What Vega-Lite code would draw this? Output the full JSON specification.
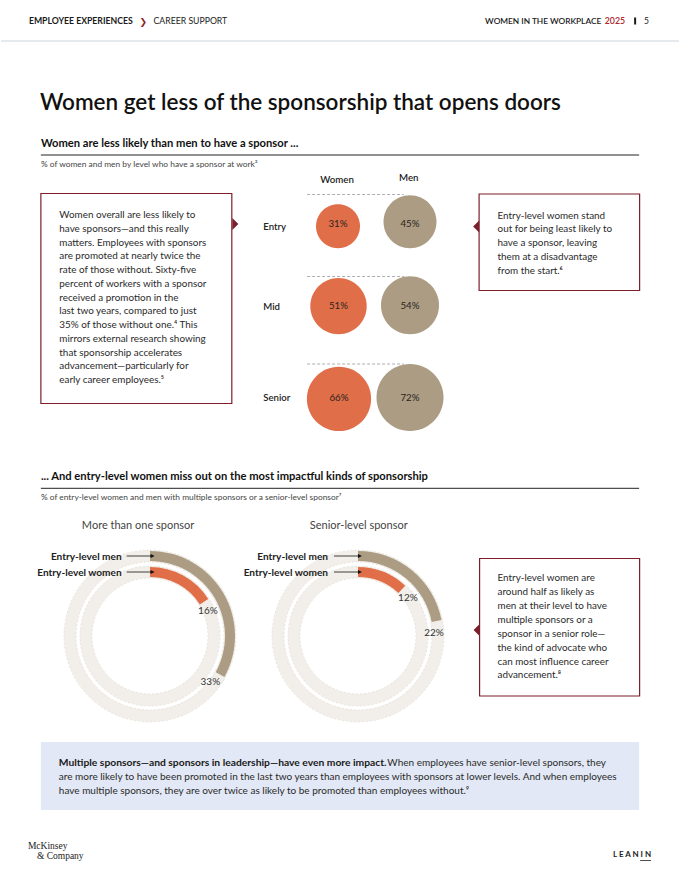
{
  "$schema": "https://vega.github.io/schema/vega-lite/v6.json",
  "width": 680,
  "height": 880,
  "padding": 0,
  "autosize": {"type": "fit", "contains": "padding"},
  "background": "white",
  "config": {
    "view": {"stroke": null},
    "font": "Lato",
    "text": {"font": "Lato", "align": "left", "baseline": "alphabetic", "color": "#222222"}
  },
  "datasets": {
    "bubbles": [
      {"level": "Entry", "gender": "Women", "share": 0.31},
      {"level": "Entry", "gender": "Men", "share": 0.45},
      {"level": "Mid", "gender": "Women", "share": 0.51},
      {"level": "Mid", "gender": "Men", "share": 0.54},
      {"level": "Senior", "gender": "Women", "share": 0.66},
      {"level": "Senior", "gender": "Men", "share": 0.72}
    ],
    "donuts": [
      {"chart": "More than one sponsor", "gender": "Men", "share": 0.33},
      {"chart": "More than one sponsor", "gender": "Women", "share": 0.16},
      {"chart": "Senior-level sponsor", "gender": "Men", "share": 0.22},
      {"chart": "Senior-level sponsor", "gender": "Women", "share": 0.12}
    ]
  },
  "resolve": {"scale": {"x": "independent", "y": "independent", "theta": "independent", "size": "independent", "color": "independent"}},
  "layer": [
    {
      "data": {"values": [{}]},
      "layer": [
        {"mark": {"type": "rule", "color": "#C9D4DB", "strokeWidth": 1},
         "encoding": {"x": {"datum": 0, "type": "quantitative", "scale": {"domain": [0, 680], "nice": false, "zero": false}, "axis": null}, "x2": {"datum": 680},
                      "y": {"datum": 41, "type": "quantitative", "scale": {"domain": [0, 880], "nice": false, "zero": false, "reverse": true}, "axis": null}}},
        {"mark": {"type": "text", "fontSize": 8.7, "fontWeight": "bold", "color": "#1a1a1a"},
         "encoding": {"x": {"datum": 28, "type": "quantitative", "scale": {"domain": [0, 680], "nice": false, "zero": false}, "axis": null},
                      "y": {"datum": 24.3, "type": "quantitative", "scale": {"domain": [0, 880], "nice": false, "zero": false, "reverse": true}, "axis": null},
                      "text": {"value": "EMPLOYEE EXPERIENCES"}}},
        {"mark": {"type": "text", "font": "DejaVu Sans", "fontSize": 9, "fontWeight": "bold", "color": "#8E1B1F"},
         "encoding": {"x": {"datum": 139, "type": "quantitative", "scale": {"domain": [0, 680], "nice": false, "zero": false}, "axis": null},
                      "y": {"datum": 25, "type": "quantitative", "scale": {"domain": [0, 880], "nice": false, "zero": false, "reverse": true}, "axis": null},
                      "text": {"value": "❯"}}},
        {"mark": {"type": "text", "fontSize": 8.7, "color": "#1a1a1a"},
         "encoding": {"x": {"datum": 153, "type": "quantitative", "scale": {"domain": [0, 680], "nice": false, "zero": false}, "axis": null},
                      "y": {"datum": 24.3, "type": "quantitative", "scale": {"domain": [0, 880], "nice": false, "zero": false, "reverse": true}, "axis": null},
                      "text": {"value": "CAREER SUPPORT"}}},
        {"mark": {"type": "text", "align": "right", "fontSize": 8.3, "fontWeight": 600, "color": "#1a1a1a"},
         "encoding": {"x": {"datum": 602, "type": "quantitative", "scale": {"domain": [0, 680], "nice": false, "zero": false}, "axis": null},
                      "y": {"datum": 24.3, "type": "quantitative", "scale": {"domain": [0, 880], "nice": false, "zero": false, "reverse": true}, "axis": null},
                      "text": {"value": "WOMEN IN THE WORKPLACE"}}},
        {"mark": {"type": "text", "fontSize": 8.8, "fontWeight": 600, "color": "#B0282E"},
         "encoding": {"x": {"datum": 605.5, "type": "quantitative", "scale": {"domain": [0, 680], "nice": false, "zero": false}, "axis": null},
                      "y": {"datum": 24.3, "type": "quantitative", "scale": {"domain": [0, 880], "nice": false, "zero": false, "reverse": true}, "axis": null},
                      "text": {"value": "2025"}}},
        {"mark": {"type": "rule", "color": "#1a1a1a", "strokeWidth": 2},
         "encoding": {"x": {"datum": 636, "type": "quantitative", "scale": {"domain": [0, 680], "nice": false, "zero": false}, "axis": null},
                      "y": {"datum": 17.5, "type": "quantitative", "scale": {"domain": [0, 880], "nice": false, "zero": false, "reverse": true}, "axis": null}, "y2": {"datum": 24.5}}},
        {"mark": {"type": "text", "fontSize": 8.5, "color": "#1a1a1a"},
         "encoding": {"x": {"datum": 645, "type": "quantitative", "scale": {"domain": [0, 680], "nice": false, "zero": false}, "axis": null},
                      "y": {"datum": 24.3, "type": "quantitative", "scale": {"domain": [0, 880], "nice": false, "zero": false, "reverse": true}, "axis": null},
                      "text": {"value": "5"}}},
        {"mark": {"type": "text", "fontSize": 22.5, "fontWeight": 600, "color": "#111111"},
         "encoding": {"x": {"datum": 39, "type": "quantitative", "scale": {"domain": [0, 680], "nice": false, "zero": false}, "axis": null},
                      "y": {"datum": 109.5, "type": "quantitative", "scale": {"domain": [0, 880], "nice": false, "zero": false, "reverse": true}, "axis": null},
                      "text": {"value": "Women get less of the sponsorship that opens doors"}}},
        {"mark": {"type": "text", "fontSize": 11.2, "fontWeight": "bold", "color": "#111111"},
         "encoding": {"x": {"datum": 40, "type": "quantitative", "scale": {"domain": [0, 680], "nice": false, "zero": false}, "axis": null},
                      "y": {"datum": 147.3, "type": "quantitative", "scale": {"domain": [0, 880], "nice": false, "zero": false, "reverse": true}, "axis": null},
                      "text": {"value": "Women are less likely than men to have a sponsor ..."}}},
        {"mark": {"type": "rule", "color": "#222222", "strokeWidth": 1},
         "encoding": {"x": {"datum": 40, "type": "quantitative", "scale": {"domain": [0, 680], "nice": false, "zero": false}, "axis": null}, "x2": {"datum": 640},
                      "y": {"datum": 155, "type": "quantitative", "scale": {"domain": [0, 880], "nice": false, "zero": false, "reverse": true}, "axis": null}}},
        {"mark": {"type": "text", "fontSize": 8.4, "color": "#444444"},
         "encoding": {"x": {"datum": 40, "type": "quantitative", "scale": {"domain": [0, 680], "nice": false, "zero": false}, "axis": null},
                      "y": {"datum": 166.5, "type": "quantitative", "scale": {"domain": [0, 880], "nice": false, "zero": false, "reverse": true}, "axis": null},
                      "text": {"value": "% of women and men by level who have a sponsor at work³"}}},
        {"mark": {"type": "text", "align": "center", "fontSize": 9.7, "fontWeight": 600, "color": "#222222"},
         "encoding": {"x": {"datum": 337, "type": "quantitative", "scale": {"domain": [0, 680], "nice": false, "zero": false}, "axis": null},
                      "y": {"datum": 182.5, "type": "quantitative", "scale": {"domain": [0, 880], "nice": false, "zero": false, "reverse": true}, "axis": null},
                      "text": {"value": "Women"}}},
        {"mark": {"type": "text", "align": "center", "fontSize": 9.7, "fontWeight": 600, "color": "#222222"},
         "encoding": {"x": {"datum": 409, "type": "quantitative", "scale": {"domain": [0, 680], "nice": false, "zero": false}, "axis": null},
                      "y": {"datum": 180.5, "type": "quantitative", "scale": {"domain": [0, 880], "nice": false, "zero": false, "reverse": true}, "axis": null},
                      "text": {"value": "Men"}}},
        {"mark": {"type": "rule", "color": "#9A9A9A", "strokeWidth": 0.8, "strokeDash": [3, 2]},
         "encoding": {"x": {"datum": 307, "type": "quantitative", "scale": {"domain": [0, 680], "nice": false, "zero": false}, "axis": null}, "x2": {"datum": 404},
                      "y": {"datum": 194.5, "type": "quantitative", "scale": {"domain": [0, 880], "nice": false, "zero": false, "reverse": true}, "axis": null}}},
        {"mark": {"type": "rule", "color": "#9A9A9A", "strokeWidth": 0.8, "strokeDash": [3, 2]},
         "encoding": {"x": {"datum": 307, "type": "quantitative", "scale": {"domain": [0, 680], "nice": false, "zero": false}, "axis": null}, "x2": {"datum": 404},
                      "y": {"datum": 276.5, "type": "quantitative", "scale": {"domain": [0, 880], "nice": false, "zero": false, "reverse": true}, "axis": null}}},
        {"mark": {"type": "rule", "color": "#9A9A9A", "strokeWidth": 0.8, "strokeDash": [3, 2]},
         "encoding": {"x": {"datum": 307, "type": "quantitative", "scale": {"domain": [0, 680], "nice": false, "zero": false}, "axis": null}, "x2": {"datum": 404},
                      "y": {"datum": 364, "type": "quantitative", "scale": {"domain": [0, 880], "nice": false, "zero": false, "reverse": true}, "axis": null}}},
        {"mark": {"type": "text", "fontSize": 9.6, "fontWeight": 600, "color": "#222222"},
         "encoding": {"x": {"datum": 263, "type": "quantitative", "scale": {"domain": [0, 680], "nice": false, "zero": false}, "axis": null},
                      "y": {"datum": 229.5, "type": "quantitative", "scale": {"domain": [0, 880], "nice": false, "zero": false, "reverse": true}, "axis": null},
                      "text": {"value": "Entry"}}},
        {"mark": {"type": "text", "fontSize": 9.6, "fontWeight": 600, "color": "#222222"},
         "encoding": {"x": {"datum": 263, "type": "quantitative", "scale": {"domain": [0, 680], "nice": false, "zero": false}, "axis": null},
                      "y": {"datum": 309.5, "type": "quantitative", "scale": {"domain": [0, 880], "nice": false, "zero": false, "reverse": true}, "axis": null},
                      "text": {"value": "Mid"}}},
        {"mark": {"type": "text", "fontSize": 9.6, "fontWeight": 600, "color": "#222222"},
         "encoding": {"x": {"datum": 263, "type": "quantitative", "scale": {"domain": [0, 680], "nice": false, "zero": false}, "axis": null},
                      "y": {"datum": 400.5, "type": "quantitative", "scale": {"domain": [0, 880], "nice": false, "zero": false, "reverse": true}, "axis": null},
                      "text": {"value": "Senior"}}},
        {"mark": {"type": "rect", "fill": "white", "stroke": "#7A1F2B", "strokeWidth": 1.2},
         "encoding": {"x": {"datum": 40, "type": "quantitative", "scale": {"domain": [0, 680], "nice": false, "zero": false}, "axis": null}, "x2": {"datum": 231.5},
                      "y": {"datum": 193.5, "type": "quantitative", "scale": {"domain": [0, 880], "nice": false, "zero": false, "reverse": true}, "axis": null}, "y2": {"datum": 403.5}}},
        {"mark": {"type": "point", "shape": "M-0.5,-1L0.5,0L-0.5,1Z", "filled": true, "opacity": 1, "size": 144, "color": "#7A1F2B"},
         "encoding": {"x": {"datum": 235, "type": "quantitative", "scale": {"domain": [0, 680], "nice": false, "zero": false}, "axis": null},
                      "y": {"datum": 224, "type": "quantitative", "scale": {"domain": [0, 880], "nice": false, "zero": false, "reverse": true}, "axis": null}}},
        {"mark": {"type": "text", "fontSize": 9.9, "lineHeight": 13.75, "color": "#2a2a2a"},
         "encoding": {"x": {"datum": 58.5, "type": "quantitative", "scale": {"domain": [0, 680], "nice": false, "zero": false}, "axis": null},
                      "y": {"datum": 218.2, "type": "quantitative", "scale": {"domain": [0, 880], "nice": false, "zero": false, "reverse": true}, "axis": null},
                      "text": {"value": ["Women overall are less likely to", "have sponsors—and this really", "matters. Employees with sponsors", "are promoted at nearly twice the", "rate of those without. Sixty-five", "percent of workers with a sponsor", "received a promotion in the", "last two years, compared to just", "35% of those without one.⁴ This", "mirrors external research showing", "that sponsorship accelerates", "advancement—particularly for", "early career employees.⁵"]}}},
        {"mark": {"type": "rect", "fill": "white", "stroke": "#7A1F2B", "strokeWidth": 1.2},
         "encoding": {"x": {"datum": 479.5, "type": "quantitative", "scale": {"domain": [0, 680], "nice": false, "zero": false}, "axis": null}, "x2": {"datum": 640.5},
                      "y": {"datum": 194, "type": "quantitative", "scale": {"domain": [0, 880], "nice": false, "zero": false, "reverse": true}, "axis": null}, "y2": {"datum": 290.5}}},
        {"mark": {"type": "point", "shape": "M0.5,-1L-0.5,0L0.5,1Z", "filled": true, "opacity": 1, "size": 144, "color": "#7A1F2B"},
         "encoding": {"x": {"datum": 476.5, "type": "quantitative", "scale": {"domain": [0, 680], "nice": false, "zero": false}, "axis": null},
                      "y": {"datum": 226.5, "type": "quantitative", "scale": {"domain": [0, 880], "nice": false, "zero": false, "reverse": true}, "axis": null}}},
        {"mark": {"type": "text", "fontSize": 9.9, "lineHeight": 13.75, "color": "#2a2a2a"},
         "encoding": {"x": {"datum": 498, "type": "quantitative", "scale": {"domain": [0, 680], "nice": false, "zero": false}, "axis": null},
                      "y": {"datum": 218.7, "type": "quantitative", "scale": {"domain": [0, 880], "nice": false, "zero": false, "reverse": true}, "axis": null},
                      "text": {"value": ["Entry-level women stand", "out for being least likely to", "have a sponsor, leaving", "them at a disadvantage", "from the start.⁶"]}}},
        {"mark": {"type": "text", "fontSize": 11.2, "fontWeight": "bold", "color": "#111111"},
         "encoding": {"x": {"datum": 40, "type": "quantitative", "scale": {"domain": [0, 680], "nice": false, "zero": false}, "axis": null},
                      "y": {"datum": 480.3, "type": "quantitative", "scale": {"domain": [0, 880], "nice": false, "zero": false, "reverse": true}, "axis": null},
                      "text": {"value": "... And entry-level women miss out on the most impactful kinds of sponsorship"}}},
        {"mark": {"type": "rule", "color": "#222222", "strokeWidth": 1},
         "encoding": {"x": {"datum": 40, "type": "quantitative", "scale": {"domain": [0, 680], "nice": false, "zero": false}, "axis": null}, "x2": {"datum": 640},
                      "y": {"datum": 488.3, "type": "quantitative", "scale": {"domain": [0, 880], "nice": false, "zero": false, "reverse": true}, "axis": null}}},
        {"mark": {"type": "text", "fontSize": 8.4, "color": "#444444"},
         "encoding": {"x": {"datum": 40, "type": "quantitative", "scale": {"domain": [0, 680], "nice": false, "zero": false}, "axis": null},
                      "y": {"datum": 499.5, "type": "quantitative", "scale": {"domain": [0, 880], "nice": false, "zero": false, "reverse": true}, "axis": null},
                      "text": {"value": "% of entry-level women and men with multiple sponsors or a senior-level sponsor⁷"}}},
        {"mark": {"type": "text", "align": "center", "fontSize": 11, "color": "#444444"},
         "encoding": {"x": {"datum": 137.5, "type": "quantitative", "scale": {"domain": [0, 680], "nice": false, "zero": false}, "axis": null},
                      "y": {"datum": 529, "type": "quantitative", "scale": {"domain": [0, 880], "nice": false, "zero": false, "reverse": true}, "axis": null},
                      "text": {"value": "More than one sponsor"}}},
        {"mark": {"type": "text", "align": "center", "fontSize": 11, "color": "#444444"},
         "encoding": {"x": {"datum": 358.8, "type": "quantitative", "scale": {"domain": [0, 680], "nice": false, "zero": false}, "axis": null},
                      "y": {"datum": 529, "type": "quantitative", "scale": {"domain": [0, 880], "nice": false, "zero": false, "reverse": true}, "axis": null},
                      "text": {"value": "Senior-level sponsor"}}},
        {"mark": {"type": "rect", "fill": "white", "stroke": "#7A1F2B", "strokeWidth": 1.2},
         "encoding": {"x": {"datum": 480, "type": "quantitative", "scale": {"domain": [0, 680], "nice": false, "zero": false}, "axis": null}, "x2": {"datum": 640.5},
                      "y": {"datum": 558.5, "type": "quantitative", "scale": {"domain": [0, 880], "nice": false, "zero": false, "reverse": true}, "axis": null}, "y2": {"datum": 696}}},
        {"mark": {"type": "point", "shape": "M0.5,-1L-0.5,0L0.5,1Z", "filled": true, "opacity": 1, "size": 144, "color": "#7A1F2B"},
         "encoding": {"x": {"datum": 477, "type": "quantitative", "scale": {"domain": [0, 680], "nice": false, "zero": false}, "axis": null},
                      "y": {"datum": 630, "type": "quantitative", "scale": {"domain": [0, 880], "nice": false, "zero": false, "reverse": true}, "axis": null}}},
        {"mark": {"type": "text", "fontSize": 9.9, "lineHeight": 13.9, "color": "#2a2a2a"},
         "encoding": {"x": {"datum": 498, "type": "quantitative", "scale": {"domain": [0, 680], "nice": false, "zero": false}, "axis": null},
                      "y": {"datum": 581.2, "type": "quantitative", "scale": {"domain": [0, 880], "nice": false, "zero": false, "reverse": true}, "axis": null},
                      "text": {"value": ["Entry-level women are", "around half as likely as", "men at their level to have", "multiple sponsors or a", "sponsor in a senior role—", "the kind of advocate who", "can most influence career", "advancement.⁸"]}}},
        {"mark": {"type": "rect", "fill": "#E2E8F5"},
         "encoding": {"x": {"datum": 40, "type": "quantitative", "scale": {"domain": [0, 680], "nice": false, "zero": false}, "axis": null}, "x2": {"datum": 640},
                      "y": {"datum": 742, "type": "quantitative", "scale": {"domain": [0, 880], "nice": false, "zero": false, "reverse": true}, "axis": null}, "y2": {"datum": 810}}},
        {"mark": {"type": "text", "fontSize": 10.3, "fontWeight": "bold", "color": "#1a1a1a"},
         "encoding": {"x": {"datum": 58, "type": "quantitative", "scale": {"domain": [0, 680], "nice": false, "zero": false}, "axis": null},
                      "y": {"datum": 765.5, "type": "quantitative", "scale": {"domain": [0, 880], "nice": false, "zero": false, "reverse": true}, "axis": null},
                      "text": {"value": "Multiple sponsors—and sponsors in leadership—have even more impact."}}},
        {"mark": {"type": "text", "fontSize": 10, "color": "#2a2a2a"},
         "encoding": {"x": {"datum": 387.5, "type": "quantitative", "scale": {"domain": [0, 680], "nice": false, "zero": false}, "axis": null},
                      "y": {"datum": 765.5, "type": "quantitative", "scale": {"domain": [0, 880], "nice": false, "zero": false, "reverse": true}, "axis": null},
                      "text": {"value": "When employees have senior-level sponsors, they"}}},
        {"mark": {"type": "text", "fontSize": 10, "lineHeight": 14, "color": "#2a2a2a"},
         "encoding": {"x": {"datum": 58, "type": "quantitative", "scale": {"domain": [0, 680], "nice": false, "zero": false}, "axis": null},
                      "y": {"datum": 779.5, "type": "quantitative", "scale": {"domain": [0, 880], "nice": false, "zero": false, "reverse": true}, "axis": null},
                      "text": {"value": ["are more likely to have been promoted in the last two years than employees with sponsors at lower levels. And when employees", "have multiple sponsors, they are over twice as likely to be promoted than employees without.⁹"]}}},
        {"mark": {"type": "text", "font": "Liberation Serif", "fontSize": 9.5, "color": "#222222"},
         "encoding": {"x": {"datum": 27, "type": "quantitative", "scale": {"domain": [0, 680], "nice": false, "zero": false}, "axis": null},
                      "y": {"datum": 849, "type": "quantitative", "scale": {"domain": [0, 880], "nice": false, "zero": false, "reverse": true}, "axis": null},
                      "text": {"value": "McKinsey"}}},
        {"mark": {"type": "text", "font": "Liberation Serif", "fontSize": 9.5, "color": "#222222"},
         "encoding": {"x": {"datum": 36, "type": "quantitative", "scale": {"domain": [0, 680], "nice": false, "zero": false}, "axis": null},
                      "y": {"datum": 859, "type": "quantitative", "scale": {"domain": [0, 880], "nice": false, "zero": false, "reverse": true}, "axis": null},
                      "text": {"value": "& Company"}}},
        {"mark": {"type": "text", "align": "right", "fontSize": 8, "fontWeight": "bold", "color": "#222222"},
         "encoding": {"x": {"datum": 652, "type": "quantitative", "scale": {"domain": [0, 680], "nice": false, "zero": false}, "axis": null},
                      "y": {"datum": 856.5, "type": "quantitative", "scale": {"domain": [0, 880], "nice": false, "zero": false, "reverse": true}, "axis": null},
                      "text": {"value": "L E A N   I N"}}},
        {"mark": {"type": "rule", "color": "#222222", "strokeWidth": 0.8},
         "encoding": {"x": {"datum": 641, "type": "quantitative", "scale": {"domain": [0, 680], "nice": false, "zero": false}, "axis": null}, "x2": {"datum": 652},
                      "y": {"datum": 860.5, "type": "quantitative", "scale": {"domain": [0, 880], "nice": false, "zero": false, "reverse": true}, "axis": null}}}
      ]
    },
    {
      "data": {"name": "bubbles"},
      "transform": [{"filter": "datum.level === 'Entry'"}],
      "encoding": {"x": {"field": "gender", "type": "nominal", "scale": {"type": "point", "domain": ["Women", "Men"], "range": [337, 409], "padding": 0}, "axis": null}},
      "layer": [
        {"mark": {"type": "point", "shape": "M-1,-1A1,1,0,1,1,1,-1A1,1,0,1,1,-1,-1Z", "filled": true, "opacity": 1, "strokeWidth": 0},
         "encoding": {"y": {"datum": 248.3, "type": "quantitative", "scale": {"domain": [0, 880], "nice": false, "zero": false, "reverse": true}, "axis": null},
                      "size": {"field": "share", "type": "quantitative", "scale": {"domain": [0, 1], "range": [0, 6240], "zero": true}, "legend": null},
                      "color": {"field": "gender", "type": "nominal", "scale": {"domain": ["Women", "Men"], "range": ["#E06E48", "#AB9C83"]}, "legend": null}}},
        {"mark": {"type": "text", "align": "center", "baseline": "middle", "fontSize": 9.7, "color": "#2a2420"},
         "encoding": {"y": {"datum": 224, "type": "quantitative", "scale": {"domain": [0, 880], "nice": false, "zero": false, "reverse": true}, "axis": null},
                      "text": {"field": "share", "type": "quantitative", "format": ".0%"}}}
      ]
    },
    {
      "data": {"name": "bubbles"},
      "transform": [{"filter": "datum.level === 'Mid'"}],
      "encoding": {"x": {"field": "gender", "type": "nominal", "scale": {"type": "point", "domain": ["Women", "Men"], "range": [337.5, 409], "padding": 0}, "axis": null}},
      "layer": [
        {"mark": {"type": "point", "shape": "M-1,-1A1,1,0,1,1,1,-1A1,1,0,1,1,-1,-1Z", "filled": true, "opacity": 1, "strokeWidth": 0},
         "encoding": {"y": {"datum": 334.3, "type": "quantitative", "scale": {"domain": [0, 880], "nice": false, "zero": false, "reverse": true}, "axis": null},
                      "size": {"field": "share", "type": "quantitative", "scale": {"domain": [0, 1], "range": [0, 6240], "zero": true}, "legend": null},
                      "color": {"field": "gender", "type": "nominal", "scale": {"domain": ["Women", "Men"], "range": ["#E06E48", "#AB9C83"]}, "legend": null}}},
        {"mark": {"type": "text", "align": "center", "baseline": "middle", "fontSize": 9.7, "color": "#2a2420"},
         "encoding": {"y": {"datum": 306, "type": "quantitative", "scale": {"domain": [0, 880], "nice": false, "zero": false, "reverse": true}, "axis": null},
                      "text": {"field": "share", "type": "quantitative", "format": ".0%"}}}
      ]
    },
    {
      "data": {"name": "bubbles"},
      "transform": [{"filter": "datum.level === 'Senior'"}],
      "encoding": {"x": {"field": "gender", "type": "nominal", "scale": {"type": "point", "domain": ["Women", "Men"], "range": [338, 409], "padding": 0}, "axis": null}},
      "layer": [
        {"mark": {"type": "point", "shape": "M-1,-1A1,1,0,1,1,1,-1A1,1,0,1,1,-1,-1Z", "filled": true, "opacity": 1, "strokeWidth": 0},
         "encoding": {"y": {"datum": 431, "type": "quantitative", "scale": {"domain": [0, 880], "nice": false, "zero": false, "reverse": true}, "axis": null},
                      "size": {"field": "share", "type": "quantitative", "scale": {"domain": [0, 1], "range": [0, 6240], "zero": true}, "legend": null},
                      "color": {"field": "gender", "type": "nominal", "scale": {"domain": ["Women", "Men"], "range": ["#E06E48", "#AB9C83"]}, "legend": null}}},
        {"mark": {"type": "text", "align": "center", "baseline": "middle", "fontSize": 9.7, "color": "#2a2420"},
         "encoding": {"y": {"datum": 397.5, "type": "quantitative", "scale": {"domain": [0, 880], "nice": false, "zero": false, "reverse": true}, "axis": null},
                      "text": {"field": "share", "type": "quantitative", "format": ".0%"}}}
      ]
    },
    {
      "data": {"name": "donuts"},
      "encoding": {
        "x": {"field": "chart", "type": "nominal", "scale": {"type": "point", "domain": ["More than one sponsor", "Senior-level sponsor"], "range": [149, 357], "padding": 0}, "axis": null},
        "y": {"datum": 636, "type": "quantitative", "scale": {"domain": [0, 880], "nice": false, "zero": false, "reverse": true}, "axis": null}
      },
      "layer": [
        {"transform": [{"filter": "datum.gender === 'Men'"}],
         "mark": {"type": "arc", "radius": 86, "radius2": 74, "fill": "#F2EFEA", "stroke": "#DDD8D0", "strokeWidth": 0.6, "strokeDash": [2, 2]},
         "encoding": {"theta": {"datum": 0, "type": "quantitative", "scale": {"domain": [0, 1], "range": [0, 6.283185307179586]}}, "theta2": {"datum": 1}}},
        {"transform": [{"filter": "datum.gender === 'Women'"}],
         "mark": {"type": "arc", "radius": 70, "radius2": 58, "fill": "#F2EFEA", "stroke": "#DDD8D0", "strokeWidth": 0.6, "strokeDash": [2, 2]},
         "encoding": {"theta": {"datum": 0, "type": "quantitative", "scale": {"domain": [0, 1], "range": [0, 6.283185307179586]}}, "theta2": {"datum": 1}}},
        {"transform": [{"filter": "datum.gender === 'Men'"}],
         "mark": {"type": "arc", "radius": 85, "radius2": 75, "fill": "#AB9C83"},
         "encoding": {"theta": {"field": "share", "type": "quantitative", "stack": null, "scale": {"domain": [0, 1], "range": [0, 6.283185307179586]}}, "theta2": {"datum": 0}}},
        {"transform": [{"filter": "datum.gender === 'Women'"}],
         "mark": {"type": "arc", "radius": 69, "radius2": 59, "fill": "#E06E48"},
         "encoding": {"theta": {"field": "share", "type": "quantitative", "stack": null, "scale": {"domain": [0, 1], "range": [0, 6.283185307179586]}}, "theta2": {"datum": 0}}},
        {"transform": [{"filter": "datum.gender === 'Men'"}],
         "mark": {"type": "text", "align": "center", "baseline": "middle", "radius": 76, "thetaOffset": 0.15, "fontSize": 10, "color": "#333333"},
         "encoding": {"theta": {"field": "share", "type": "quantitative", "stack": null, "scale": {"domain": [0, 1], "range": [0, 6.283185307179586]}},
                      "text": {"field": "share", "type": "quantitative", "format": ".0%"}}},
        {"transform": [{"filter": "datum.gender === 'Women'"}],
         "mark": {"type": "text", "align": "center", "baseline": "middle", "radius": 63, "thetaOffset": 0.16, "fontSize": 10, "color": "#333333"},
         "encoding": {"theta": {"field": "share", "type": "quantitative", "stack": null, "scale": {"domain": [0, 1], "range": [0, 6.283185307179586]}},
                      "text": {"field": "share", "type": "quantitative", "format": ".0%"}}}
      ]
    },
    {
      "data": {"values": [{}]},
      "layer": [
        {"mark": {"type": "rule", "color": "#111111", "strokeWidth": 0.8},
         "encoding": {"x": {"datum": 126, "type": "quantitative", "scale": {"domain": [0, 680], "nice": false, "zero": false}, "axis": null}, "x2": {"datum": 152},
                      "y": {"datum": 556, "type": "quantitative", "scale": {"domain": [0, 880], "nice": false, "zero": false, "reverse": true}, "axis": null}}},
        {"mark": {"type": "rule", "color": "#111111", "strokeWidth": 0.8},
         "encoding": {"x": {"datum": 126, "type": "quantitative", "scale": {"domain": [0, 680], "nice": false, "zero": false}, "axis": null}, "x2": {"datum": 152},
                      "y": {"datum": 572, "type": "quantitative", "scale": {"domain": [0, 880], "nice": false, "zero": false, "reverse": true}, "axis": null}}},
        {"mark": {"type": "rule", "color": "#111111", "strokeWidth": 0.8},
         "encoding": {"x": {"datum": 334, "type": "quantitative", "scale": {"domain": [0, 680], "nice": false, "zero": false}, "axis": null}, "x2": {"datum": 360},
                      "y": {"datum": 556, "type": "quantitative", "scale": {"domain": [0, 880], "nice": false, "zero": false, "reverse": true}, "axis": null}}},
        {"mark": {"type": "rule", "color": "#111111", "strokeWidth": 0.8},
         "encoding": {"x": {"datum": 334, "type": "quantitative", "scale": {"domain": [0, 680], "nice": false, "zero": false}, "axis": null}, "x2": {"datum": 360},
                      "y": {"datum": 572, "type": "quantitative", "scale": {"domain": [0, 880], "nice": false, "zero": false, "reverse": true}, "axis": null}}},
        {"mark": {"type": "point", "shape": "M-1,-1L1,0L-1,1Z", "filled": true, "opacity": 1, "size": 16, "color": "#111111"},
         "encoding": {"x": {"datum": 152, "type": "quantitative", "scale": {"domain": [0, 680], "nice": false, "zero": false}, "axis": null},
                      "y": {"datum": 556, "type": "quantitative", "scale": {"domain": [0, 880], "nice": false, "zero": false, "reverse": true}, "axis": null}}},
        {"mark": {"type": "point", "shape": "M-1,-1L1,0L-1,1Z", "filled": true, "opacity": 1, "size": 16, "color": "#111111"},
         "encoding": {"x": {"datum": 152, "type": "quantitative", "scale": {"domain": [0, 680], "nice": false, "zero": false}, "axis": null},
                      "y": {"datum": 572, "type": "quantitative", "scale": {"domain": [0, 880], "nice": false, "zero": false, "reverse": true}, "axis": null}}},
        {"mark": {"type": "point", "shape": "M-1,-1L1,0L-1,1Z", "filled": true, "opacity": 1, "size": 16, "color": "#111111"},
         "encoding": {"x": {"datum": 360, "type": "quantitative", "scale": {"domain": [0, 680], "nice": false, "zero": false}, "axis": null},
                      "y": {"datum": 556, "type": "quantitative", "scale": {"domain": [0, 880], "nice": false, "zero": false, "reverse": true}, "axis": null}}},
        {"mark": {"type": "point", "shape": "M-1,-1L1,0L-1,1Z", "filled": true, "opacity": 1, "size": 16, "color": "#111111"},
         "encoding": {"x": {"datum": 360, "type": "quantitative", "scale": {"domain": [0, 680], "nice": false, "zero": false}, "axis": null},
                      "y": {"datum": 572, "type": "quantitative", "scale": {"domain": [0, 880], "nice": false, "zero": false, "reverse": true}, "axis": null}}},
        {"mark": {"type": "text", "align": "right", "fontSize": 10.1, "fontWeight": "bold", "color": "#222222"},
         "encoding": {"x": {"datum": 121, "type": "quantitative", "scale": {"domain": [0, 680], "nice": false, "zero": false}, "axis": null},
                      "y": {"datum": 559.5, "type": "quantitative", "scale": {"domain": [0, 880], "nice": false, "zero": false, "reverse": true}, "axis": null},
                      "text": {"value": "Entry-level men"}}},
        {"mark": {"type": "text", "align": "right", "fontSize": 10.1, "fontWeight": "bold", "color": "#222222"},
         "encoding": {"x": {"datum": 121, "type": "quantitative", "scale": {"domain": [0, 680], "nice": false, "zero": false}, "axis": null},
                      "y": {"datum": 575.5, "type": "quantitative", "scale": {"domain": [0, 880], "nice": false, "zero": false, "reverse": true}, "axis": null},
                      "text": {"value": "Entry-level women"}}},
        {"mark": {"type": "text", "align": "right", "fontSize": 10.1, "fontWeight": "bold", "color": "#222222"},
         "encoding": {"x": {"datum": 328, "type": "quantitative", "scale": {"domain": [0, 680], "nice": false, "zero": false}, "axis": null},
                      "y": {"datum": 559.5, "type": "quantitative", "scale": {"domain": [0, 880], "nice": false, "zero": false, "reverse": true}, "axis": null},
                      "text": {"value": "Entry-level men"}}},
        {"mark": {"type": "text", "align": "right", "fontSize": 10.1, "fontWeight": "bold", "color": "#222222"},
         "encoding": {"x": {"datum": 328, "type": "quantitative", "scale": {"domain": [0, 680], "nice": false, "zero": false}, "axis": null},
                      "y": {"datum": 575.5, "type": "quantitative", "scale": {"domain": [0, 880], "nice": false, "zero": false, "reverse": true}, "axis": null},
                      "text": {"value": "Entry-level women"}}}
      ]
    }
  ]
}
